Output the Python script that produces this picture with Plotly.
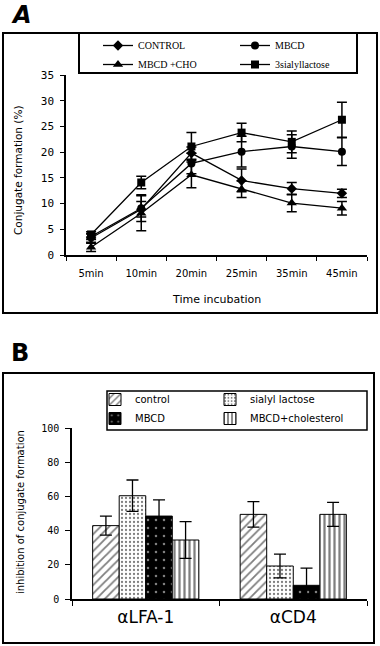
import plotly.graph_objects as go

# ---------------- Panel A data ----------------
times = ["5min", "10min", "20min", "25min", "35min", "45min"]
a_control = [3.3, 8.9, 19.8, 14.5, 12.9, 12.0]
a_control_err = [0.8, 1.5, 1.2, 2.2, 1.2, 0.8]
a_mbcd = [3.6, 9.1, 17.8, 20.1, 21.1, 20.1]
a_mbcd_err = [0.6, 2.6, 2.0, 3.0, 2.3, 2.7]
a_mbcd_cho = [1.5, 8.1, 15.6, 12.8, 10.1, 9.1]
a_mbcd_cho_err = [0.8, 3.4, 2.5, 1.6, 1.7, 1.3]
a_sialyl = [4.0, 14.1, 21.1, 23.8, 22.0, 26.3]
a_sialyl_err = [0.5, 1.2, 2.7, 1.8, 2.1, 3.4]
a_yticks = [0, 5, 10, 15, 20, 25, 30, 35]

# ---------------- Panel B data ----------------
b_cats = ["αLFA-1", "αCD4"]
b_control = [42.9, 49.5]
b_control_err = [5.6, 7.5]
b_sialyl = [60.4, 19.3]
b_sialyl_err = [9.2, 7.0]
b_mbcd = [48.5, 8.0]
b_mbcd_err = [9.5, 10.0]
b_chol = [34.5, 49.5]
b_chol_err = [10.7, 7.0]
b_yticks = [0, 20, 40, 60, 80, 100]

W, H = 380, 646
def px(x):
    return x / W
def py(y):
    return 1 - y / H

fig = go.Figure()

series_a = [
    ("CONTROL", a_control, a_control_err, "diamond", 8),
    ("MBCD", a_mbcd, a_mbcd_err, "circle", 8),
    ("MBCD +CHO", a_mbcd_cho, a_mbcd_cho_err, "triangle-up", 9),
    ("3sialyllactose", a_sialyl, a_sialyl_err, "square", 8),
]
for name, vals, err, sym, sz in series_a:
    fig.add_trace(go.Scatter(
        x=times, y=vals, name=name, mode="lines+markers",
        line=dict(color="black", width=1.3),
        marker=dict(symbol=sym, size=sz, color="black"),
        error_y=dict(type="data", array=err, visible=True, color="black",
                     thickness=1.5, width=5),
        xaxis="x", yaxis="y", legend="legend",
    ))

series_b = [
    ("control", b_control, b_control_err, "legend2",
     dict(shape="/", bgcolor="white", fgcolor="black", size=6, solidity=0.3)),
    ("sialyl lactose", b_sialyl, b_sialyl_err, "legend3",
     dict(shape=".", bgcolor="white", fgcolor="black", size=4, solidity=0.25)),
    ("MBCD", b_mbcd, b_mbcd_err, "legend2",
     dict(shape=".", bgcolor="black", fgcolor="white", size=8, solidity=0.08)),
    ("MBCD+cholesterol", b_chol, b_chol_err, "legend3",
     dict(shape="|", bgcolor="white", fgcolor="black", size=5, solidity=0.45)),
]
for name, vals, err, leg, pat in series_b:
    fig.add_trace(go.Bar(
        x=b_cats, y=vals, name=name,
        marker=dict(color="white", line=dict(color="black", width=1), pattern=pat),
        error_y=dict(type="data", array=err, visible=True, color="black",
                     thickness=1.3, width=6),
        xaxis="x2", yaxis="y2", legend=leg,
    ))

axis_common = dict(showline=True, linecolor="black", linewidth=1.5,
                   showgrid=False, zeroline=False, ticks="outside",
                   tickcolor="black", automargin=False)

legB = dict(yanchor="top", xanchor="left", orientation="v",
            bgcolor="rgba(0,0,0,0)", borderwidth=0, traceorder="normal",
            font=dict(family="DejaVu Sans", size=10, color="black"),
            itemwidth=30, tracegroupgap=0)

fig.update_layout(
    width=W, height=H,
    margin=dict(l=0, r=0, t=0, b=0, autoexpand=False),
    paper_bgcolor="white", plot_bgcolor="white",
    showlegend=True,
    barmode="group", bargap=0.28, bargroupgap=0,
    xaxis=dict(axis_common, domain=[px(66), px(367)], anchor="y",
               type="category", tickson="boundaries", ticklen=4,
               range=[-0.5, 5.5],
               tickfont=dict(family="DejaVu Sans", size=10, color="black"),
               ticklabelstandoff=8),
    yaxis=dict(axis_common, domain=[py(255), py(75)], anchor="x",
               range=[0, 35], tickvals=a_yticks, ticklen=4,
               tickfont=dict(family="DejaVu Sans Mono", size=11, color="black"),
               ticklabelstandoff=4),
    xaxis2=dict(axis_common, domain=[px(72), px(367)], anchor="y2",
                type="category", tickson="boundaries", ticklen=5,
                range=[-0.5, 1.5],
                tickfont=dict(family="DejaVu Sans", size=17, color="black"),
                ticklabelstandoff=2),
    yaxis2=dict(axis_common, domain=[py(599), py(428)], anchor="x2",
                range=[0, 100], tickvals=b_yticks, ticklen=5,
                tickfont=dict(family="DejaVu Sans Mono", size=10, color="black"),
                ticklabelstandoff=4),
    legend=dict(x=px(98), y=py(31), xanchor="left", yanchor="top",
                orientation="h", entrywidth=92, entrywidthmode="pixels",
                bgcolor="rgba(0,0,0,0)", borderwidth=0, traceorder="normal",
                font=dict(family="Liberation Serif", size=10, color="black"),
                itemwidth=30, tracegroupgap=0),
    legend2=dict(legB, x=px(95), y=py(385)),
    legend3=dict(legB, x=px(210), y=py(385)),
)

shapes = [
    dict(type="rect", xref="paper", yref="paper", x0=px(3), x1=px(377),
         y0=py(313), y1=py(33), line=dict(color="black", width=2)),
    dict(type="rect", xref="paper", yref="paper", x0=px(79), x1=px(357),
         y0=py(73), y1=py(33), line=dict(color="black", width=2)),
    dict(type="rect", xref="paper", yref="paper", x0=px(3), x1=px(374),
         y0=py(643), y1=py(373), line=dict(color="black", width=2)),
    dict(type="rect", xref="paper", yref="paper", x0=px(107), x1=px(367),
         y0=py(430), y1=py(391), line=dict(color="black", width=1.5)),
]
fig.update_layout(shapes=shapes)

def ann(text, x, y, size, angle=0, family="DejaVu Sans"):
    return dict(text=text, x=px(x), y=py(y), xref="paper", yref="paper",
                xanchor="center", yanchor="middle", showarrow=False,
                textangle=angle, font=dict(family=family, size=size, color="black"))

annotations = [
    ann("<b><i>A</i></b>", 21, 15, 24),
    ann("<b>B</b>", 20, 353, 24),
    ann("Time incubation", 216, 299, 11),
    ann("Conjugate formation (%)", 18, 170, 10.5, -90),
    ann("inhibition of conjugate formation", 20, 512, 10, -90),
]
fig.update_layout(annotations=annotations)

fig.write_html("out.html",
               config={"displayModeBar": False},
               post_script="document.body.style.margin='0';"
                           "document.body.style.overflow='hidden';")
